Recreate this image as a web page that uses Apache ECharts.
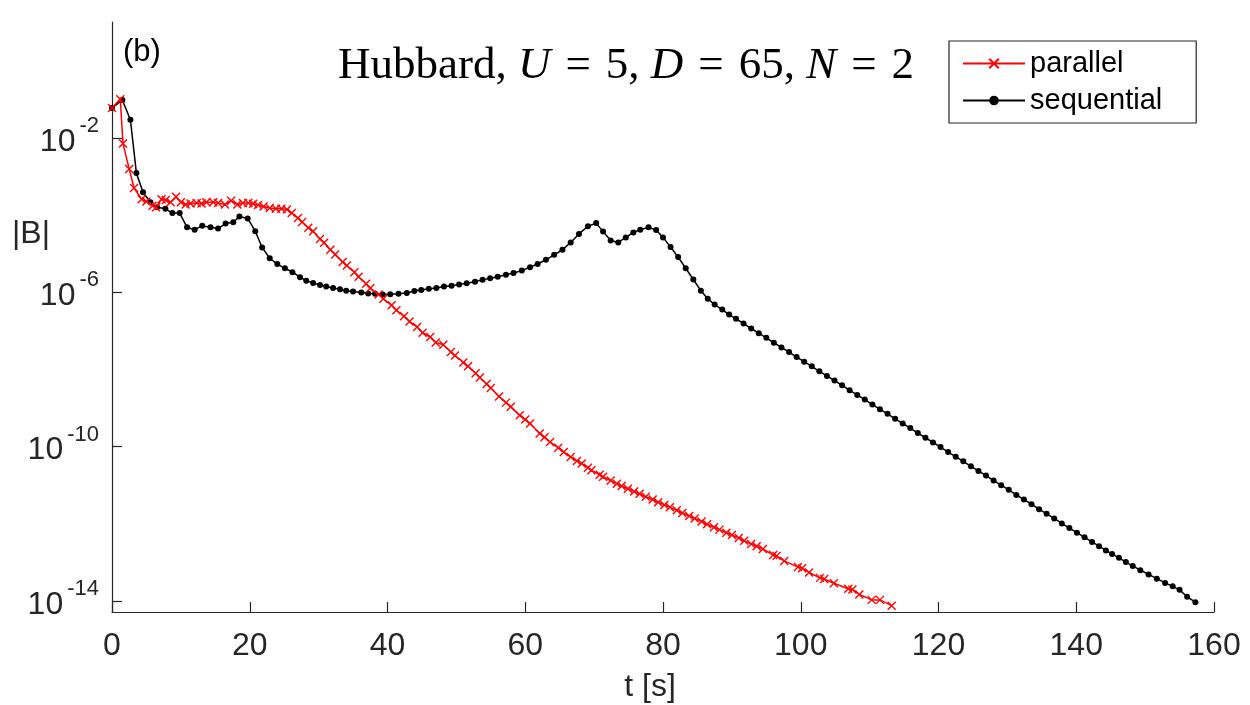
<!DOCTYPE html>
<html>
<head>
<meta charset="utf-8">
<script src="https://cdn.jsdelivr.net/npm/echarts@6/dist/echarts.min.js"></script>
<style>
  html, body { margin: 0; padding: 0; background: #ffffff; }
  #chart { width: 1250px; height: 705px; }
</style>
</head>
<body>
<div id="chart"></div>
<script>
// ---- data (t in seconds, |B| given as log10 exponent) ----
const tParallel = [0, 1.2, 1.6, 2.5, 3.2, 4.3, 5.0, 5.9, 6.4, 7.2, 7.8, 8.5, 9.3, 10.0, 10.7, 11.4, 12.3, 13.0, 13.7, 14.7,
  15.4, 16.4, 17.3, 18.2, 19.0, 19.8, 20.5, 21.2, 22.0, 22.9, 23.8, 24.6, 25.4, 26.1, 27.0, 27.6, 28.5, 29.2, 30.2, 30.8,
  31.7, 32.4, 33.5, 34.1, 35.2, 35.8, 36.9, 37.5, 38.7, 39.4, 40.6, 41.3, 42.4, 43.2, 44.3, 45.1, 46.2, 47.0, 48.1, 49.2,
  49.8, 51.0, 51.7, 52.8, 53.4, 54.4, 55.0, 56.2, 57.2, 57.9, 59.2, 60.0, 60.7, 62.1, 62.8, 63.6, 64.8, 65.6, 66.6, 67.5,
  68.2, 69.1, 69.6, 70.8, 71.3, 72.4, 73.3, 74.0, 74.9, 75.8, 76.6, 77.5, 78.5, 79.3, 80.2, 81.0, 82.0, 82.8, 83.8, 84.6,
  85.6, 86.4, 87.4, 88.2, 89.2, 90.0, 91.0, 91.8, 92.8, 93.6, 94.5, 96.0, 96.5, 97.6, 99.6, 100.2, 101.2, 102.8, 103.4, 104.8,
  106.9, 107.5, 108.5, 110.3, 111.5, 113.2];
const log10BParallel = [-1.23, -1.00, -2.15, -2.81, -3.30, -3.59, -3.65, -3.76, -3.80, -3.59, -3.61, -3.67, -3.53, -3.67, -3.73, -3.70, -3.69, -3.70, -3.67, -3.67,
  -3.69, -3.73, -3.63, -3.73, -3.69, -3.69, -3.71, -3.74, -3.78, -3.82, -3.84, -3.84, -3.86, -3.95, -4.08, -4.18, -4.33, -4.42, -4.62, -4.72,
  -4.90, -5.02, -5.22, -5.31, -5.48, -5.60, -5.78, -5.90, -6.06, -6.17, -6.34, -6.47, -6.62, -6.76, -6.90, -7.05, -7.16, -7.30, -7.36, -7.55,
  -7.64, -7.82, -7.92, -8.10, -8.21, -8.38, -8.48, -8.70, -8.86, -8.97, -9.19, -9.30, -9.40, -9.66, -9.76, -9.88, -10.03, -10.14, -10.27, -10.37,
  -10.44, -10.55, -10.61, -10.73, -10.78, -10.88, -10.96, -11.02, -11.09, -11.16, -11.22, -11.30, -11.37, -11.44, -11.51, -11.57, -11.65, -11.72, -11.80, -11.86,
  -11.94, -12.01, -12.09, -12.15, -12.23, -12.29, -12.37, -12.44, -12.52, -12.58, -12.65, -12.81, -12.83, -12.96, -13.12, -13.15, -13.26, -13.40, -13.43, -13.54,
  -13.68, -13.70, -13.83, -13.97, -13.97, -14.12];

const tSequential = [0, 1.5, 2.67, 3.54, 4.5, 5.58, 6.54, 7.75, 8.77, 9.83, 10.9, 12.0, 13.1, 14.3, 15.4, 16.5, 17.6, 18.5, 19.7, 20.8,
  21.8, 22.9, 24.0, 25.1, 26.2, 27.3, 28.2, 29.2, 30.2, 31.1, 32.1, 33.1, 34.0, 35.0, 36.2, 37.2, 38.2, 39.3, 40.4, 41.6,
  42.8, 43.9, 44.9, 46.0, 47.1, 48.2, 49.3, 50.4, 51.5, 52.7, 53.8, 54.9, 56.0, 57.2, 58.3, 59.5, 60.7, 61.8, 63.0, 64.2,
  65.4, 66.6, 67.8, 69.1, 70.3, 71.3, 72.4, 73.5, 74.6, 75.7, 76.7, 77.9, 79.0, 80.0, 81.1, 82.2, 83.3, 84.4, 85.5, 86.5,
  87.5, 88.6, 89.6, 90.6, 91.7, 92.8, 93.9, 95.0, 96.1, 97.2, 98.3, 99.4, 100.5, 101.6, 102.7, 103.8, 104.9, 106.0, 107.1, 108.2,
  109.3, 110.4, 111.5, 112.6, 113.7, 114.8, 115.9, 117.0, 118.1, 119.2, 120.3, 121.4, 122.5, 123.6, 124.7, 125.8, 126.9, 128.0, 129.1, 130.2,
  131.3, 132.4, 133.5, 134.6, 135.7, 136.8, 137.9, 139.0, 140.1, 141.2, 142.3, 143.3, 144.3, 145.2, 146.2, 147.2, 148.2, 149.3, 150.5, 151.7,
  152.9, 154.0, 155.0, 156.1, 157.3];
const log10BSequential = [-1.23, -1.02, -1.53, -2.91, -3.41, -3.67, -3.80, -3.84, -3.95, -3.95, -4.32, -4.38, -4.28, -4.32, -4.35, -4.22, -4.19, -4.04, -4.09, -4.42,
  -4.84, -5.12, -5.27, -5.38, -5.48, -5.61, -5.70, -5.76, -5.81, -5.85, -5.89, -5.92, -5.96, -5.98, -6.01, -6.03, -6.04, -6.06, -6.05, -6.04,
  -6.02, -5.97, -5.94, -5.91, -5.89, -5.85, -5.83, -5.80, -5.77, -5.73, -5.68, -5.64, -5.60, -5.55, -5.50, -5.44, -5.35, -5.27, -5.16, -5.03,
  -4.90, -4.71, -4.49, -4.29, -4.21, -4.43, -4.66, -4.71, -4.58, -4.45, -4.38, -4.32, -4.39, -4.58, -4.83, -5.09, -5.38, -5.67, -5.96, -6.17,
  -6.32, -6.45, -6.58, -6.69, -6.81, -6.94, -7.06, -7.18, -7.31, -7.43, -7.55, -7.68, -7.80, -7.92, -8.05, -8.17, -8.29, -8.41, -8.54, -8.66,
  -8.78, -8.91, -9.03, -9.15, -9.28, -9.40, -9.52, -9.65, -9.77, -9.89, -10.01, -10.14, -10.26, -10.38, -10.51, -10.63, -10.75, -10.88, -11.00, -11.12,
  -11.25, -11.37, -11.49, -11.62, -11.74, -11.86, -11.99, -12.11, -12.23, -12.35, -12.47, -12.58, -12.69, -12.78, -12.88, -12.99, -13.09, -13.20, -13.31, -13.42,
  -13.53, -13.62, -13.71, -13.89, -14.03];

const xTickValues = [0, 20, 40, 60, 80, 100, 120, 140, 160];
const yTickExponents = [-14, -10, -6, -2];
const seriesNames = ['parallel', 'sequential'];

// ---- chart ----
const axisColor = '#262626';
const sansFont = '"Liberation Sans", Arial, Helvetica, sans-serif';
const serifFont = '"Liberation Serif", "Times New Roman", serif';
const yTickValues = yTickExponents.map(e => Math.pow(10, e));

const toPairs = (ts, ls) => ts.map((t, i) => [t, Math.pow(10, ls[i])]);

const chart = echarts.init(document.getElementById('chart'), null, { renderer: 'canvas' });
chart.setOption({
  animation: false,
  backgroundColor: '#ffffff',
  grid: { left: 112, right: 36, top: 22, bottom: 93, containLabel: false, outerBoundsMode: 'none' },
  xAxis: {
    type: 'value',
    min: 0, max: 160, interval: 20,
    name: 't [s]',
    nameLocation: 'middle',
    nameGap: 59,
    nameTextStyle: { fontFamily: sansFont, fontSize: 32, color: axisColor, padding: [0, 26, 0, 0] },
    axisLine: { show: true, onZero: false, lineStyle: { color: axisColor, width: 1.2 } },
    axisTick: { show: true, inside: true, length: 10, customValues: xTickValues, lineStyle: { color: axisColor, width: 1.2 } },
    axisLabel: { customValues: xTickValues, fontFamily: sansFont, fontSize: 32, color: axisColor, margin: 18 },
    splitLine: { show: false }
  },
  yAxis: {
    type: 'log',
    logBase: 10,
    min: 5.2e-15, max: 10,
    axisLine: { show: true, onZero: false, lineStyle: { color: axisColor, width: 1.2 } },
    axisTick: { show: true, inside: true, length: 10, customValues: yTickValues, lineStyle: { color: axisColor, width: 1.2 } },
    axisLabel: {
      customValues: yTickValues,
      margin: 13,
      color: axisColor,
      formatter: function (v) {
        const e = Math.round(Math.log10(v));
        return '{b|10}{s|' + e + '}';
      },
      rich: {
        b: { fontFamily: sansFont, fontSize: 32, color: axisColor, padding: [8, 0, 0, 0] },
        s: { fontFamily: sansFont, fontSize: 22, color: axisColor, padding: [0, 0, 24, 4] }
      }
    },
    splitLine: { show: false },
    minorTick: { show: false }
  },
  legend: {
    data: seriesNames,
    orient: 'vertical',
    left: 949, top: 41,
    padding: [4, 34, 4, 13],
    itemGap: 0,
    itemWidth: 62,
    itemHeight: 12,
    borderColor: axisColor,
    borderWidth: 1.2,
    backgroundColor: '#ffffff',
    textStyle: { fontFamily: sansFont, fontSize: 29, color: '#000000', lineHeight: 37 }
  },
  graphic: [
    {
      type: 'text', left: 123, top: 37,
      style: { text: '(b)', font: '31px ' + sansFont, fill: '#000000' }
    },
    {
      type: 'text', left: 12, top: 218,
      style: { text: '|B|', font: '32px ' + sansFont, fill: axisColor }
    },
    {
      type: 'text', x: 626, y: 66,
      style: {
        text: '{r|Hubbard, }{i|U}{e|=}{r|5, }{i|D}{e|=}{r|65, }{i|N}{e|=}{r|2}',
        align: 'center', verticalAlign: 'middle',
        rich: {
          r: { fontFamily: serifFont, fontSize: 45, fill: '#000000' },
          i: { fontFamily: serifFont, fontSize: 45, fontStyle: 'italic', fill: '#000000' },
          e: { fontFamily: serifFont, fontSize: 45, fill: '#000000', padding: [0, 15, 0, 15] }
        }
      }
    }
  ],
  series: [
    {
      name: seriesNames[0],
      type: 'line',
      data: toPairs(tParallel, log10BParallel),
      symbol: 'path://M0,0L10,10M10,0L0,10',
      symbolSize: 8,
      showSymbol: true,
      lineStyle: { color: '#ff0000', width: 1.5 },
      itemStyle: { color: '#ff0000', borderColor: '#ff0000', borderWidth: 1.4 },
      z: 3
    },
    {
      name: seriesNames[1],
      type: 'line',
      data: toPairs(tSequential, log10BSequential),
      symbol: 'circle',
      symbolSize: 6,
      showSymbol: true,
      lineStyle: { color: '#000000', width: 1.5 },
      itemStyle: { color: '#000000' },
      z: 2
    }
  ]
});
</script>
</body>
</html>
